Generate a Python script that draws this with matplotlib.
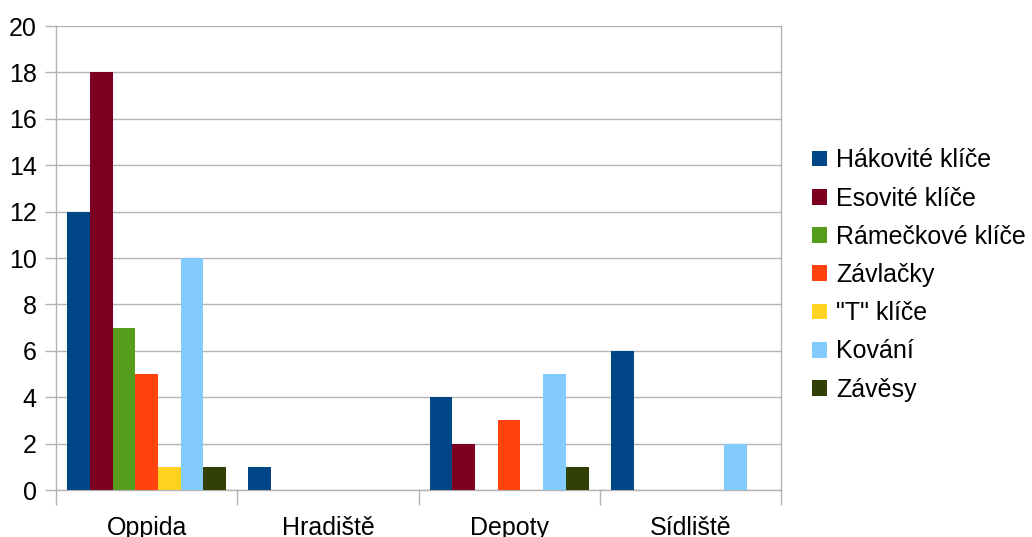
import numpy as np
import matplotlib
matplotlib.use("Agg")
import matplotlib.pyplot as plt

plt.rcParams["font.family"] = ["Liberation Sans", "DejaVu Sans"]

categories = ["Oppida", "Hradiště", "Depoty", "Sídliště"]
series_names = ["Hákovité klíče", "Esovité klíče", "Rámečkové klíče", "Závlačky",
                "\"T\" klíče", "Kování", "Závěsy"]
hakovite = [12, 1, 4, 6]
esovite = [18, 0, 2, 0]
rameckove = [7, 0, 0, 0]
zavlacky = [5, 0, 3, 0]
t_klice = [1, 0, 0, 0]
kovani = [10, 0, 5, 2]
zavesy = [1, 0, 1, 0]
series = [hakovite, esovite, rameckove, zavlacky, t_klice, kovani, zavesy]
colors = ["#004586", "#7e0021", "#579d1c", "#ff420e", "#ffd320", "#83caff", "#314004"]

fig = plt.figure(figsize=(10.32, 5.37), dpi=100)
ax = fig.add_axes([56 / 1032, 1 - 490 / 537, (781 - 56) / 1032, (490 - 26) / 537])

x = np.arange(len(categories))
w = 0.1254
n = len(series)
for i, (vals, name, col) in enumerate(zip(series, series_names, colors)):
    ax.bar(x + (i - (n - 1) / 2) * w, vals, width=w, color=col, label=name, zorder=3)

ax.set_xlim(-0.5, len(categories) - 0.5)
ax.set_ylim(0, 20)
ax.set_yticks(range(0, 21, 2))
ax.yaxis.grid(True, color="#b3b3b3", linewidth=1, zorder=0)
ax.set_xticks(x)
ax.set_xticklabels(categories)
ax.set_xticks(np.arange(-0.5, len(categories), 1), minor=True)
ax.tick_params(axis="x", which="major", length=0, pad=18.5, labelsize=18)
ax.tick_params(axis="x", which="minor", length=11, color="#b3b3b3", width=1)
ax.tick_params(axis="y", length=8, color="#b3b3b3", width=1, pad=6, labelsize=18)

ax.spines["top"].set_visible(False)
for s in ["left", "bottom", "right"]:
    ax.spines[s].set_color("#b3b3b3")
    ax.spines[s].set_linewidth(1)

ax.legend(loc="center left", bbox_to_anchor=(812 / 1032, 1 - 275 / 537),
          bbox_transform=fig.transFigure, frameon=False, fontsize=18,
          handlelength=0.6, handleheight=0.6, handletextpad=0.36,
          labelspacing=0.57, borderaxespad=0, borderpad=0)

fig.savefig("out.png", dpi=100)
